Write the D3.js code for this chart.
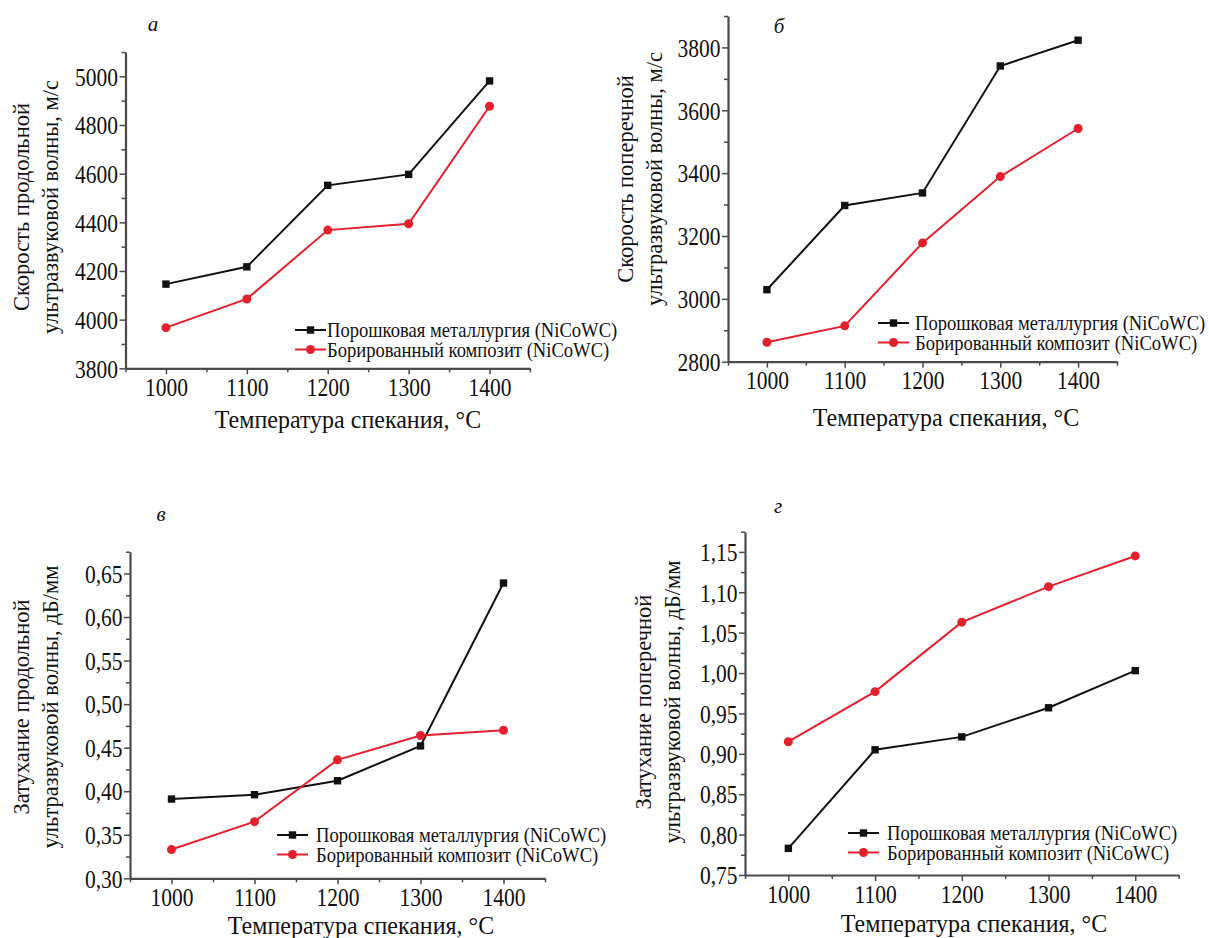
<!DOCTYPE html>
<html>
<head>
<meta charset="utf-8">
<script src="https://cdn.jsdelivr.net/npm/d3@7"></script>
<style>
  body { margin: 0; background: #fff; }
  svg { display: block; font-family: "Liberation Serif", "Times New Roman", serif; }
  .axis path, .axis line { stroke: #4a4a4a; }
  .axis text { fill: #111; font-family: "Liberation Serif", serif; }
</style>
</head>
<body>
<svg id="chart" width="1209" height="938"></svg>
<script>
// temperatures (x) shared by all four panels
const temps = [1000, 1100, 1200, 1300, 1400];
const seriesNames = ["Порошковая металлургия (NiCoWC)", "Борированный композит (NiCoWC)"];
const panelLetters = ["а", "б", "в", "г"];

// а - longitudinal velocity, m/s
const longSpeedPowder = [4146, 4217, 4552, 4597, 4981];
const longSpeedBorided = [3967, 4085, 4368, 4394, 4877];
// б - transverse velocity, m/s
const shearSpeedPowder = [3029, 3297, 3337, 3741, 3823];
const shearSpeedBorided = [2862, 2914, 3178, 3389, 3542];
// в - longitudinal attenuation, dB/mm
const longAttenPowder = [0.391, 0.396, 0.412, 0.452, 0.639];
const longAttenBorided = [0.333, 0.365, 0.436, 0.464, 0.470];
// г - transverse attenuation, dB/mm
const shearAttenPowder = [0.783, 0.905, 0.921, 0.957, 1.003];
const shearAttenBorided = [0.915, 0.977, 1.063, 1.107, 1.145];

// tick labels
const yTicksA = [3800, 4000, 4200, 4400, 4600, 4800, 5000];
const yTicksB = [2800, 3000, 3200, 3400, 3600, 3800];
const yTicksC = [0.30, 0.35, 0.40, 0.45, 0.50, 0.55, 0.60, 0.65];
const yTicksD = [0.75, 0.80, 0.85, 0.90, 0.95, 1.00, 1.05, 1.10, 1.15];

const xTitle = "Температура спекания, °С";
const yTitles = [
  ["Скорость продольной", "ультразвуковой волны, м/с"],
  ["Скорость поперечной", "ультразвуковой волны, м/с"],
  ["Затухание продольной", "ультразвуковой волны, дБ/мм"],
  ["Затухание поперечной", "ультразвуковой волны, дБ/мм"]
];

const RED = "#e3202b";
const svg = d3.select("#chart");

// layout of each panel (pixel boxes)
const panels = [
  { box: [125.5, 52, 530, 368.3], yDom: [3800, 5100], yTicks: yTicksA, fmt: d3.format("d"),
    series: [longSpeedPowder, longSpeedBorided], letter: [153, 31],
    yTitle: [21, 50, 207], xTitle: [348, 428], legend: [295, 327, 330] },
  { box: [728, 16, 1117, 361.7], yDom: [2800, 3900], yTicks: yTicksB, fmt: d3.format("d"),
    series: [shearSpeedPowder, shearSpeedBorided], letter: [779, 33],
    yTitle: [625, 654, 179], xTitle: [946, 426], legend: [878, 915, 323] },
  { box: [130, 551.7, 545, 878.3], yDom: [0.30, 0.675], yTicks: yTicksC, fmt: commaFmt,
    series: [longAttenPowder, longAttenBorided], letter: [161, 521],
    yTitle: [21, 50, 707], xTitle: [361, 934], legend: [277, 316, 835] },
  { box: [745, 531.7, 1178.6, 875], yDom: [0.75, 1.175], yTicks: yTicksD, fmt: commaFmt,
    series: [shearAttenPowder, shearAttenBorided], letter: [778, 513],
    yTitle: [643, 672, 702], xTitle: [974, 932], legend: [848, 887, 833] }
];

function commaFmt(v) { return d3.format(".2f")(v).replace(".", ","); }

function marker(g, kind, x, y) {
  if (kind === 0) {
    g.append("rect").attr("x", x - 3.7).attr("y", y - 3.7)
      .attr("width", 7.4).attr("height", 7.4).attr("fill", "#111");
  } else {
    g.append("circle").attr("cx", x).attr("cy", y).attr("r", 4.5).attr("fill", RED);
  }
}

function drawPanel(p, idx) {
  const [x0, y0, x1, y1] = p.box;
  const x = d3.scaleLinear().domain([950, 1450]).range([x0, x1]);
  const y = d3.scaleLinear().domain(p.yDom).range([y1, y0]);
  const g = svg.append("g");

  const yStep = p.yTicks[1] - p.yTicks[0];
  const yMinor = d3.range(p.yDom[0] + yStep / 2, p.yDom[1] + 1e-9, yStep);
  const xMinor = [950, 1050, 1150, 1250, 1350, 1450];

  // minor ticks
  g.append("g").attr("class", "axis").attr("transform", `translate(0,${y1})`)
    .call(d3.axisBottom(x).tickValues(xMinor).tickSize(4).tickFormat(""))
    .call(a => a.select(".domain").remove())
    .selectAll("line").attr("stroke-width", 1.5);
  g.append("g").attr("class", "axis").attr("transform", `translate(${x0},0)`)
    .call(d3.axisLeft(y).tickValues(yMinor).tickSize(4).tickFormat(""))
    .call(a => a.select(".domain").remove())
    .selectAll("line").attr("stroke-width", 1.5);

  // major ticks and labels (text stretched vertically like the scan)
  const xa = g.append("g").attr("class", "axis").attr("transform", `translate(0,${y1})`)
    .call(d3.axisBottom(x).tickValues(temps).tickSize(6).tickSizeOuter(0).tickFormat(d3.format("d")));
  xa.select(".domain").attr("stroke-width", 2.2);
  xa.selectAll("line").attr("stroke-width", 1.5);
  xa.selectAll("text").attr("font-size", 21.5).attr("y", 0).attr("dy", 0)
    .attr("transform", "translate(0,27.5) scale(1,1.2)");

  const ya = g.append("g").attr("class", "axis").attr("transform", `translate(${x0},0)`)
    .call(d3.axisLeft(y).tickValues(p.yTicks).tickSize(6).tickSizeOuter(0).tickFormat(p.fmt));
  ya.select(".domain").attr("stroke-width", 2.2);
  ya.selectAll("line").attr("stroke-width", 1.5);
  ya.selectAll("text").attr("font-size", 21.5).attr("x", 0).attr("dy", "0.34em")
    .attr("transform", "translate(-7.5,0) scale(1,1.2)");

  // series lines and markers
  const colors = ["#111", RED];
  p.series.forEach((vals, s) => {
    const pts = temps.map((t, i) => [x(t), y(vals[i])]);
    g.append("path").attr("d", d3.line()(pts))
      .attr("fill", "none").attr("stroke", colors[s]).attr("stroke-width", 2);
    pts.forEach(pt => marker(g, s, pt[0], pt[1]));
  });

  // legend
  const [lx, tx, ly] = p.legend;
  seriesNames.forEach((name, s) => {
    const yy = ly + s * 19.5;
    g.append("line").attr("x1", lx).attr("x2", lx + 31).attr("y1", yy).attr("y2", yy)
      .attr("stroke", colors[s]).attr("stroke-width", 2);
    marker(g, s, lx + 15.5, yy);
    g.append("text").attr("transform", `translate(${tx},${yy}) scale(1,1.08)`)
      .attr("dy", "0.35em").attr("font-size", 18.6).attr("fill", "#111").text(name);
  });

  // axis titles
  g.append("text").attr("transform", `translate(${p.xTitle[0]},${p.xTitle[1]}) scale(1,1.08)`)
    .attr("text-anchor", "middle").attr("font-size", 24).attr("fill", "#111").text(xTitle);
  yTitles[idx].forEach((line, k) => {
    const cx = p.yTitle[k];
    g.append("text").attr("transform", `translate(${cx},${p.yTitle[2]}) rotate(-90)`)
      .attr("text-anchor", "middle").attr("dy", "0.35em")
      .attr("font-size", 22.5).attr("fill", "#111").text(line);
  });

  // panel letter
  g.append("text").attr("x", p.letter[0]).attr("y", p.letter[1])
    .attr("text-anchor", "middle").attr("font-size", 21).attr("font-style", "italic")
    .attr("fill", "#111").text(panelLetters[idx]);
}

panels.forEach(drawPanel);
</script>
</body>
</html>
